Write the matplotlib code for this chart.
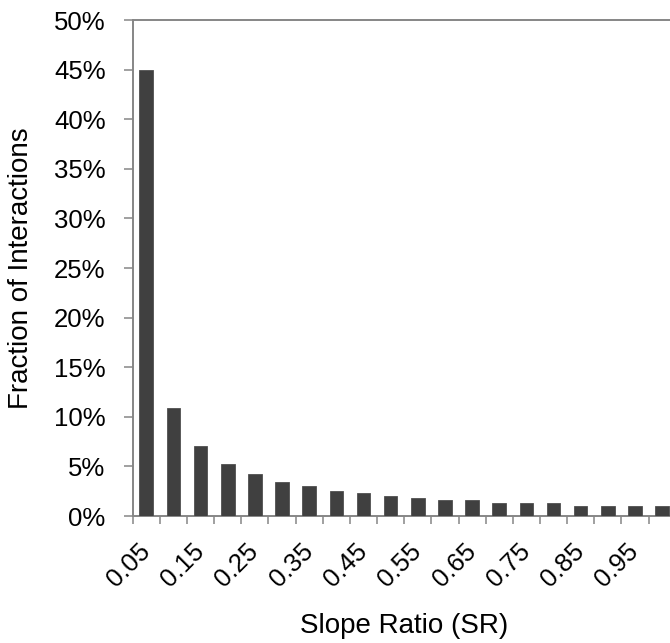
import matplotlib
matplotlib.use("Agg")
import matplotlib.pyplot as plt
from matplotlib.ticker import FuncFormatter, FixedLocator

# Data
categories = ["0.05", "0.10", "0.15", "0.20", "0.25", "0.30", "0.35", "0.40", "0.45", "0.50",
              "0.55", "0.60", "0.65", "0.70", "0.75", "0.80", "0.85", "0.90", "0.95", "1.00"]
fractions = [0.450, 0.109, 0.071, 0.052, 0.042, 0.034, 0.030, 0.025, 0.023, 0.020,
             0.018, 0.016, 0.016, 0.013, 0.013, 0.013, 0.010, 0.010, 0.010, 0.010]
y_ticks = [0.0, 0.05, 0.10, 0.15, 0.20, 0.25, 0.30, 0.35, 0.40, 0.45, 0.50]

plt.rcParams['font.family'] = ['Liberation Sans', 'DejaVu Sans']

W, H = 670, 643
fig = plt.figure(figsize=(W / 100, H / 100), dpi=100)
left, right, top, bottom = 132.7, 675.7, 20, 516
ax = fig.add_axes([left / W, 1 - bottom / H, (right - left) / W, (bottom - top) / H])

x = list(range(len(categories)))
ax.bar(x, fractions, width=0.5, color='#404040', edgecolor='#505050', linewidth=0.6, zorder=3)

ax.set_xlim(-0.5, len(categories) - 0.5)
ax.set_ylim(0, 0.5)

axis_gray = '#868686'
for s in ax.spines.values():
    s.set_color(axis_gray)
    s.set_linewidth(1.4)

# y axis
ax.yaxis.set_major_locator(FixedLocator(y_ticks))
ax.yaxis.set_major_formatter(FuncFormatter(lambda v, p: f"{v*100:.0f}%"))
ax.tick_params(axis='y', direction='out', length=6.5, width=1.1, color=axis_gray,
               labelsize=18.5, pad=13, labelcolor='black')

# x axis: boundaries as minor ticks, labels at bar centres
ax.set_xticks(x)
ax.set_xticklabels([c if i % 2 == 0 else "" for i, c in enumerate(categories)])
ax.set_xticks([i - 0.5 for i in range(len(categories) + 1)], minor=True)
ax.tick_params(axis='x', which='major', length=0, labelsize=18.5, pad=23)
ax.tick_params(axis='x', which='minor', direction='out', length=5.5, width=1.1, color=axis_gray)
for lab in ax.get_xticklabels():
    lab.set_rotation(45)
    lab.set_ha('right')
    lab.set_va('center')
    lab.set_rotation_mode('anchor')

ax.set_ylabel("Fraction of Interactions", fontsize=20)
ax.yaxis.set_label_coords(-0.182, 0.5)
ax.set_xlabel("Slope Ratio (SR)", fontsize=20)
ax.xaxis.set_label_coords(0.5, -0.195)

fig.savefig("out.png", dpi=100)
